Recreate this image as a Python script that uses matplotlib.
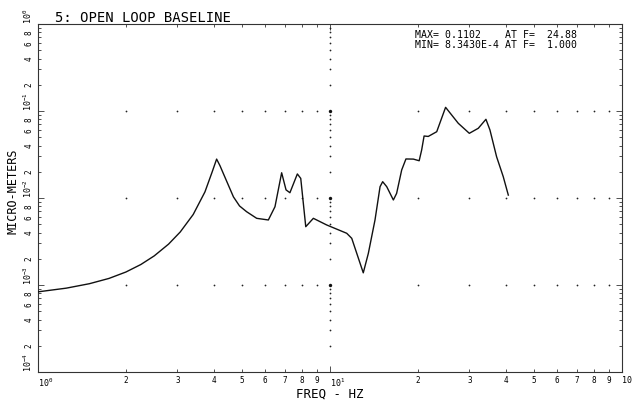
"""Open loop baseline response spectrum, redrawn in plotter style."""

import matplotlib

matplotlib.use("Agg")
import matplotlib.pyplot as plt

FREQ_HZ = [
    1.0, 1.25, 1.5, 1.75, 2.0, 2.25, 2.5, 2.8, 3.07, 3.4, 3.73, 3.95, 4.09, 4.2,
    4.31, 4.67, 4.9, 5.18, 5.61, 6.15, 6.48, 6.83, 7.07, 7.29, 7.73, 7.94, 8.26,
    8.77, 9.74, 11.41, 11.87, 12.35, 13.0, 13.53, 14.26, 14.84, 15.15, 15.64,
    16.48, 16.91, 17.6, 18.2, 19.3, 20.2, 20.6, 21.0, 21.7, 23.2, 24.88, 27.5,
    30.0, 32.2, 34.2, 35.3, 37.2, 39.2, 40.8,
]
AMPLITUDE = [
    8.343e-4, 9.2e-4, 1.035e-3, 1.19e-3, 1.41e-3, 1.72e-3, 2.16e-3, 2.95e-3,
    4.07e-3, 6.46e-3, 1.175e-2, 2.0e-2, 2.8e-2, 2.35e-2, 1.92e-2, 1.03e-2,
    8.1e-3, 6.96e-3, 5.84e-3, 5.59e-3, 7.94e-3, 1.95e-2, 1.24e-2, 1.15e-2,
    1.89e-2, 1.68e-2, 4.68e-3, 5.84e-3, 4.9e-3, 3.93e-3, 3.44e-3, 2.31e-3,
    1.38e-3, 2.31e-3, 5.59e-3, 1.35e-2, 1.54e-2, 1.35e-2, 9.49e-3, 1.13e-2,
    2.10e-2, 2.81e-2, 2.8e-2, 2.68e-2, 3.56e-2, 5.16e-2, 5.1e-2, 5.78e-2,
    0.1102, 7.22e-2, 5.54e-2, 6.33e-2, 8.03e-2, 6.05e-2, 2.98e-2, 1.76e-2,
    1.08e-2,
]

TITLE = "5: OPEN LOOP BASELINE"
STATS = ["MAX= 0.1102    AT F=  24.88", "MIN= 8.3430E-4 AT F=  1.000"]
X_MAJOR = [1, 10, 100]
X_MAJOR_LABELS = ["$10^0$", "$10^1$", "10"]
Y_MAJOR = [1e-4, 1e-3, 1e-2, 1e-1, 1.0]
Y_MAJOR_LABELS = ["$10^{-4}$", "$10^{-3}$", "$10^{-2}$", "$10^{-1}$", "$10^0$"]
MANTISSAS = [2, 3, 4, 5, 6, 7, 8, 9]
Y_MINOR_SHOWN = [2, 4, 6, 8]

MONO = "DejaVu Sans Mono"
plt.rcParams["font.family"] = MONO
plt.rcParams["mathtext.fontset"] = "custom"
plt.rcParams["mathtext.rm"] = MONO
plt.rcParams["mathtext.it"] = MONO

fig = plt.figure(figsize=(6.35, 4.08), dpi=100)
fig.patch.set_facecolor("#ffffff")
ax = fig.add_axes([38 / 635, 1 - 372 / 408, 584 / 635, 348 / 408])

ax.set_xscale("log")
ax.set_yscale("log")
ax.set_xlim(1, 100)
ax.set_ylim(1e-4, 1.0)

# dotted "grid": marks only at tick positions along the decade lines
x_minor = [m * 10 ** d for d in (0, 1) for m in MANTISSAS]
y_minor = [m * 10.0 ** d for d in (-4, -3, -2, -1) for m in MANTISSAS]
for yline in Y_MAJOR[1:-1]:
    ax.scatter(x_minor, [yline] * len(x_minor), s=1.6, color="#222222", lw=0, zorder=2)
ax.scatter([10] * len(y_minor), y_minor, s=1.6, color="#222222", lw=0, zorder=2)
ax.scatter([10] * 3, Y_MAJOR[1:-1], s=6, color="#111111", lw=0, zorder=2)

ax.plot(FREQ_HZ, AMPLITUDE, color="#111111", linewidth=1.0, zorder=4,
        solid_joinstyle="round")

# ticks and labels
ax.set_xticks(X_MAJOR, X_MAJOR_LABELS, ha="left", fontsize=6)
ax.set_xticks(x_minor, [str(m) for m in MANTISSAS] * 2, minor=True, fontsize=5.5)
ax.set_yticks(Y_MAJOR, Y_MAJOR_LABELS, rotation=90, va="bottom", fontsize=6)
ax.set_yticks(
    y_minor,
    [str(m) if m in Y_MINOR_SHOWN else "" for m in MANTISSAS] * 4,
    minor=True,
    rotation=90,
    va="center",
    fontsize=5.5,
)
ax.tick_params(which="both", direction="in", top=True, right=True,
               color="#333333", width=0.6, pad=3)
ax.tick_params(which="major", length=4)
ax.tick_params(which="minor", length=2.5)

for spine in ax.spines.values():
    spine.set_linewidth(0.8)
    spine.set_color("#333333")

ax.set_xlabel("FREQ - HZ", fontsize=9, va="top")
ax.xaxis.set_label_coords(0.5, -0.046)
ax.set_ylabel("MICRO-METERS", fontsize=8.5)
ax.yaxis.set_label_coords(-0.031, 0.52)

fig.text(55 / 635, 1 - 22 / 408, TITLE, fontsize=10, va="baseline")
fig.text(415 / 635, 1 - 38 / 408, STATS[0], fontsize=7.1, va="baseline")
fig.text(415 / 635, 1 - 48 / 408, STATS[1], fontsize=7.1, va="baseline")

fig.savefig("out.png", dpi=100)
plt.close(fig)
